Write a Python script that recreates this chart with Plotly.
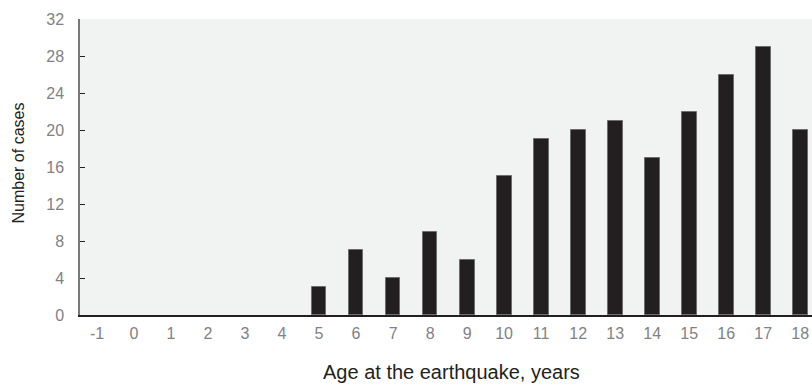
import plotly.graph_objects as go

ages = [-1, 0, 1, 2, 3, 4, 5, 6, 7, 8, 9, 10, 11, 12, 13, 14, 15, 16, 17, 18]
cases = [0, 0, 0, 0, 0, 0, 3, 7, 4, 9, 6, 15, 19, 20, 21, 17, 22, 26, 29, 20]
y_ticks = [0, 4, 8, 12, 16, 20, 24, 28, 32]

W, H = 812, 385
L, R, T, B = 80, 0, 19, 70

fig = go.Figure(go.Bar(
    x=ages, y=cases, width=0.4,
    marker=dict(color="#231f20",
                line=dict(color="#6d6d6d", width=[1 if c > 0 else 0 for c in cases])),
))

fig.update_layout(
    width=W, height=H,
    margin=dict(l=L, r=R, t=T, b=B, autoexpand=False),
    paper_bgcolor="white", plot_bgcolor="#f1f2f2",
    font=dict(family="Liberation Sans, Arial, sans-serif", size=16, color="#808285"),
    showlegend=False,
    bargap=0,
    annotations=[
        dict(text="Age at the earthquake, years", xref="paper", yref="paper",
             x=(451.5 - L) / (W - L - R), y=-(372 - (H - B)) / (H - T - B),
             xanchor="center", yanchor="middle", showarrow=False,
             font=dict(size=20, color="#231f20")),
        dict(text="Number of cases", xref="paper", yref="paper",
             x=-(L - 18) / (W - L - R), y=1 - (163.5 - T) / (H - T - B),
             xanchor="center", yanchor="middle", showarrow=False, textangle=-90,
             font=dict(size=16, color="#231f20")),
    ],
)
fig.update_xaxes(
    range=[-1.46, 18.32], tickmode="array", tickvals=ages,
    ticktext=[str(a) for a in ages], automargin=False,
    showgrid=False, zeroline=False, showline=True, linecolor="#231f20", linewidth=1.5,
    ticks="", ticklabelstandoff=3, tickfont=dict(size=16, color="#808285"),
)
fig.update_yaxes(
    range=[0, 32], tickmode="array", tickvals=y_ticks, automargin=False,
    showgrid=False, zeroline=False, showline=True, linecolor="#77787b", linewidth=1.5,
    ticks="inside", ticklen=5, tickcolor="#231f20", tickwidth=1,
    ticklabelstandoff=11, tickfont=dict(size=16, color="#808285"),
)

fig.write_html(
    "out.html",
    config={"displayModeBar": False},
    post_script="document.body.style.margin='0';document.body.style.overflow='hidden';",
)
